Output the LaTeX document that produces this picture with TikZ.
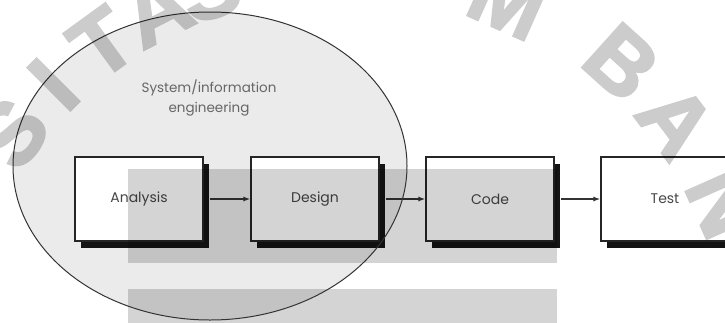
\documentclass[tikz,border=0pt]{standalone}
\usepackage{fontspec}
\setmainfont{Poppins}
\newfontfamily\wmfont{Liberation Sans}[BoldFont={Liberation Sans Bold}, BoldFeatures={FakeBold=2.5}]
\usetikzlibrary{arrows.meta,shadows,calc}
\definecolor{ellfill}{HTML}{EBEBEB}
\begin{document}
\begin{tikzpicture}[x=1pt,y=-1pt,
  proc/.style={draw=black!85, line width=1.1pt, fill=white,
    minimum width=128pt, minimum height=84pt, inner sep=0pt,
    drop shadow={shadow xshift=6pt, shadow yshift=-7pt, fill=black!92, opacity=1},
    font=\fontsize{14}{16}\selectfont, text=black!72},
  flow/.style={draw=black!80, line width=2pt, -{Latex[length=7pt,width=5pt]}},
  band/.style={fill=black, fill opacity=0.17},
  wm/.style={font=\wmfont\bfseries\fontsize{88}{88}\selectfont, text=black, inner sep=0pt},
  wmgroup/.style={transparency group, opacity=0.2}]
\useasboundingbox (0,0) rectangle (725,322);
\clip (0,0) rectangle (725,322);
\fill[white] (0,0) rectangle (725,322);
% ellipse fill
\fill[ellfill] (210,166) ellipse [x radius=197, y radius=154];
% boxes
\node[proc] (a) at (139,199) {Analysis};
\node[proc] (d) at (315,199) {Design};
\node[proc] (c) at (490,199) {Code};
\node[proc] (t) at (665,199) {Test};
% arrows
\draw[flow] ([xshift=6pt]a.east) -- (d.west);
\draw[flow] ([xshift=6pt]d.east) -- (c.west);
\draw[flow] ([xshift=6pt]c.east) -- (t.west);
% shaded bands
\fill[band] (128,169) rectangle (557,263);
\fill[band] (128,289) rectangle (557,330);
% ellipse outline
\draw[black!80, line width=1pt] (210,166) ellipse [x radius=197, y radius=154];
% title
\node[font=\fontsize{13.5}{20}\selectfont, text=black!60, align=center] (title) at (209,98) {System/information\\engineering};
% watermark
\foreach \ang/\ltr/\rad in {144/S/408,135/I/408,126/T/408,117/A/408,109/S/408,66/M/408,48/B/418,37/A/418,24/N/418}{
  \begin{scope}[wmgroup]
    \node[wm, rotate=\ang-90] at ($(342,373)+(-\ang:\rad)$) {\ltr};
  \end{scope}
}
\end{tikzpicture}
\end{document}
